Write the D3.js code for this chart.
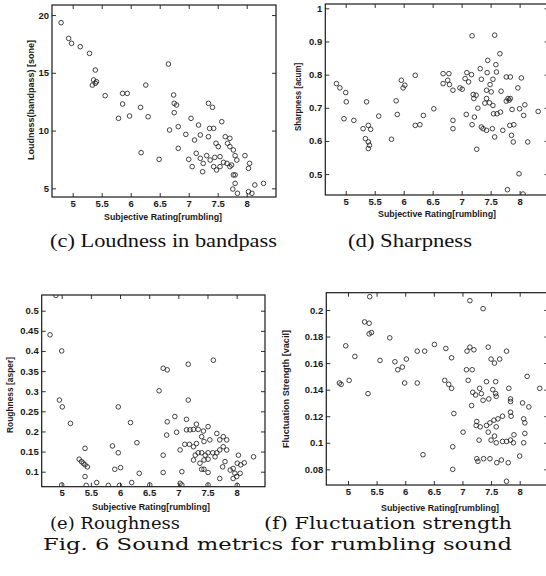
<!DOCTYPE html>
<html>
<head>
<meta charset="utf-8">
<script src="https://cdn.jsdelivr.net/npm/d3@7"></script>
<style>
  body { margin: 0; background: #fff; }
  svg { display: block; }
</style>
</head>
<body>
<div id="chart"></div>
<script>
// Sound metrics vs subjective rating (rumbling) - four scatter panels

const width = 546;
const height = 576;

// tick values
const ratingTicks = [5, 5.5, 6, 6.5, 7, 7.5, 8];
const loudnessTicks = [5, 10, 15, 20];
const sharpnessTicks = [0.5, 0.6, 0.7, 0.8, 0.9, 1];
const roughnessTicks = [0.1, 0.15, 0.2, 0.25, 0.3, 0.35, 0.4, 0.45, 0.5];
const fluctuationTicks = [0.08, 0.1, 0.12, 0.14, 0.16, 0.18, 0.2];

// (c) loudness in bandpass
const ratingC = [4.80, 4.93, 4.98, 5.13, 5.29, 5.39, 5.36, 5.39, 5.34, 5.41, 5.56, 5.86, 5.94, 5.86, 5.79, 5.98,
  6.17, 6.26, 6.30, 6.18, 6.49, 6.65, 6.74, 6.79, 6.75, 6.75, 6.67, 6.82, 6.82, 6.95, 7.04, 7.10, 7.17, 7.20,
  7.00, 7.06, 7.13, 7.20, 7.24, 7.25, 7.31, 7.34, 7.41, 7.36, 7.34, 7.43, 7.47, 7.45, 7.54, 7.57, 7.51, 7.54,
  7.60, 7.63, 7.67, 7.71, 7.77, 7.80, 7.74, 7.83, 7.97, 8.03, 8.05, 7.77, 7.80, 7.76, 7.84, 8.03, 8.14, 8.29,
  8.09, 7.43, 7.66, 7.71, 7.48, 7.37, 7.71, 7.80];
const loudness = [19.34, 17.98, 17.55, 17.26, 16.68, 15.24, 14.38, 14.09, 13.94, 14.23, 13.02, 13.22, 13.22, 12.30,
  11.06, 11.26, 12.01, 13.94, 11.20, 8.09, 7.51, 15.76, 13.08, 12.21, 12.36, 11.55, 10.05, 10.34, 8.46, 9.67,
  11.06, 9.18, 10.48, 9.62, 7.51, 6.88, 8.03, 7.60, 6.44, 7.16, 7.83, 12.36, 12.01, 10.19, 9.47, 10.19, 8.90,
  7.68, 7.74, 10.77, 8.61, 6.88, 7.25, 9.47, 8.90, 8.61, 8.32, 7.83, 7.02, 7.45, 7.83, 6.73, 7.16, 6.16, 5.43,
  4.94, 4.57, 4.71, 5.29, 5.43, 4.57, 6.88, 7.16, 6.88, 6.59, 7.45, 9.33, 6.16];

// (d) sharpness
const ratingD = [4.84, 4.90, 5.00, 5.01, 4.97, 5.14, 5.36, 5.30, 5.39, 5.43, 5.34, 5.39, 5.41, 5.39, 5.57, 5.79,
  5.87, 5.89, 5.96, 5.99, 6.02, 6.20, 6.20, 6.28, 6.34, 6.52, 6.68, 6.68, 6.76, 6.78, 6.79, 6.85, 6.85, 6.85,
  6.97, 7.01, 7.06, 7.09, 7.12, 7.08, 7.17, 7.18, 7.18, 7.22, 7.21, 7.25, 7.28, 7.26, 7.32, 7.34, 7.34, 7.37,
  7.40, 7.43, 7.43, 7.45, 7.44, 7.48, 7.49, 7.51, 7.54, 7.54, 7.57, 7.59, 7.55, 7.57, 7.60, 7.61, 7.66, 7.68,
  7.67, 7.71, 7.77, 7.80, 7.82, 7.84, 7.84, 7.87, 7.90, 7.86, 7.83, 7.89, 7.97, 8.00, 8.03, 8.09, 8.07, 8.14,
  7.99, 8.06, 7.79, 8.32, 7.77, 7.43, 7.53, 7.20];
const sharpness = [0.773, 0.760, 0.746, 0.718, 0.667, 0.662, 0.718, 0.637, 0.647, 0.635, 0.607, 0.597, 0.587, 0.577,
  0.675, 0.605, 0.721, 0.680, 0.783, 0.760, 0.768, 0.798, 0.647, 0.649, 0.677, 0.697, 0.803, 0.773, 0.783,
  0.803, 0.770, 0.753, 0.662, 0.637, 0.760, 0.756, 0.788, 0.806, 0.778, 0.680, 0.800, 0.917, 0.649, 0.672,
  0.728, 0.738, 0.699, 0.575, 0.818, 0.786, 0.642, 0.637, 0.714, 0.753, 0.728, 0.843, 0.806, 0.715, 0.770,
  0.748, 0.707, 0.786, 0.919, 0.830, 0.682, 0.612, 0.808, 0.682, 0.863, 0.750, 0.687, 0.632, 0.793, 0.728,
  0.723, 0.728, 0.793, 0.695, 0.649, 0.617, 0.647, 0.597, 0.760, 0.697, 0.790, 0.709, 0.677, 0.597, 0.501,
  0.440, 0.453, 0.689, 0.720, 0.632, 0.637, 0.740];

// (e) roughness
const ratingE = [4.90, 4.80, 5.00, 4.96, 5.01, 5.15, 5.40, 5.30, 5.34, 5.37, 5.40, 5.44, 5.40, 5.42, 5.60, 5.00,
  5.80, 5.87, 5.97, 5.97, 5.91, 6.01, 5.99, 6.18, 6.29, 6.20, 6.33, 6.51, 6.67, 6.74, 6.81, 6.81, 6.80, 6.74,
  6.74, 6.94, 6.97, 7.06, 7.03, 7.17, 7.17, 7.14, 7.14, 7.20, 7.26, 7.31, 7.34, 7.43, 7.03, 7.11, 7.19, 7.26,
  7.31, 7.40, 7.44, 7.51, 7.54, 7.26, 7.29, 7.34, 7.40, 7.46, 7.51, 7.59, 7.66, 7.71, 7.63, 7.37, 7.44, 7.51,
  7.40, 7.44, 7.51, 7.60, 7.66, 7.71, 7.77, 7.83, 7.77, 7.80, 7.76, 7.71, 7.89, 7.94, 7.97, 8.03, 8.01, 8.07,
  8.13, 8.06, 8.00, 7.94, 8.29, 7.51, 8.01, 7.83, 7.06];
const roughness = [0.538, 0.440, 0.400, 0.278, 0.261, 0.220, 0.158, 0.131, 0.125, 0.121, 0.117, 0.112, 0.088, 0.066,
  0.073, 0.067, 0.066, 0.164, 0.261, 0.147, 0.106, 0.110, 0.066, 0.222, 0.172, 0.073, 0.096, 0.067, 0.301,
  0.357, 0.353, 0.224, 0.191, 0.141, 0.098, 0.237, 0.198, 0.100, 0.071, 0.367, 0.278, 0.230, 0.204, 0.204,
  0.205, 0.218, 0.205, 0.201, 0.154, 0.168, 0.168, 0.162, 0.170, 0.187, 0.175, 0.212, 0.179, 0.129, 0.141,
  0.147, 0.147, 0.141, 0.147, 0.147, 0.147, 0.154, 0.137, 0.121, 0.129, 0.131, 0.106, 0.106, 0.098, 0.377,
  0.195, 0.179, 0.187, 0.179, 0.162, 0.125, 0.112, 0.083, 0.104, 0.108, 0.096, 0.141, 0.121, 0.117, 0.122,
  0.096, 0.088, 0.083, 0.137, 0.067, 0.066, 0.154, 0.067];

// (f) fluctuation strength
const ratingF = [5.38, 5.29, 5.37, 5.41, 5.37, 4.96, 5.12, 4.85, 4.88, 5.02, 5.35, 5.56, 5.73, 5.82, 5.87, 5.95,
  6.02, 5.99, 6.21, 6.21, 6.34, 6.51, 6.71, 6.81, 6.69, 6.76, 6.81, 6.31, 6.85, 6.83, 6.83, 7.01, 7.07, 7.17,
  7.08, 7.13, 7.20, 7.13, 7.36, 7.10, 7.18, 7.16, 7.23, 7.30, 7.33, 7.36, 7.42, 7.46, 7.53, 7.58, 7.58, 7.59,
  7.45, 7.50, 7.56, 7.65, 7.77, 7.81, 7.84, 7.84, 7.84, 7.85, 8.05, 8.16, 8.13, 8.35, 7.24, 7.25, 7.31, 7.42,
  7.48, 7.55, 7.62, 7.70, 7.59, 7.45, 7.56, 7.59, 7.70, 7.84, 7.90, 7.89, 8.07, 8.09, 8.09, 8.07, 8.00, 7.29,
  7.25, 7.27, 7.37, 7.48, 7.60, 7.68, 7.80, 7.77, 7.50, 7.77];
const fluctuation = [0.210, 0.191, 0.190, 0.183, 0.182, 0.173, 0.165, 0.145, 0.144, 0.147, 0.137, 0.162, 0.179, 0.161,
  0.155, 0.157, 0.163, 0.145, 0.145, 0.169, 0.169, 0.174, 0.171, 0.164, 0.147, 0.144, 0.141, 0.091, 0.122,
  0.097, 0.080, 0.108, 0.155, 0.155, 0.169, 0.172, 0.170, 0.207, 0.201, 0.147, 0.138, 0.128, 0.136, 0.141,
  0.137, 0.132, 0.146, 0.133, 0.140, 0.146, 0.137, 0.135, 0.172, 0.163, 0.160, 0.163, 0.169, 0.141, 0.133,
  0.131, 0.123, 0.120, 0.130, 0.127, 0.150, 0.141, 0.113, 0.116, 0.112, 0.113, 0.115, 0.117, 0.118, 0.120,
  0.112, 0.108, 0.105, 0.100, 0.101, 0.102, 0.106, 0.100, 0.118, 0.115, 0.107, 0.100, 0.090, 0.102, 0.088,
  0.086, 0.088, 0.088, 0.085, 0.087, 0.085, 0.071, 0.102, 0.101];

const svg = d3.select('#chart')
  .append('svg')
  .attr('width', width)
  .attr('height', height);

const ink = '#1a1a1a';

// one panel = frame + inward ticks + circles
function drawPanel(p) {
  const x = d3.scaleLinear().domain(p.xDomain).range([p.left, p.right]);
  const y = d3.scaleLinear().domain(p.yDomain).range([p.bottom, p.top]);

  const g = svg.append('g');

  // clip so marks at the edge are cut like the original
  const clipId = 'clip' + p.id;
  svg.append('clipPath').attr('id', clipId)
    .append('rect')
    .attr('x', p.left).attr('y', p.top)
    .attr('width', p.right - p.left).attr('height', p.bottom - p.top);

  const fmt = d => String(d);

  // bottom / top axes, ticks pointing inside
  g.append('g')
    .attr('transform', `translate(0,${p.bottom})`)
    .call(d3.axisBottom(x).tickValues(ratingTicks).tickSize(-4).tickPadding(3).tickFormat(fmt))
    .call(a => a.select('.domain').remove());
  g.append('g')
    .attr('transform', `translate(0,${p.top})`)
    .call(d3.axisTop(x).tickValues(ratingTicks).tickSize(-4).tickFormat(''))
    .call(a => a.select('.domain').remove());

  // left / right axes
  g.append('g')
    .attr('transform', `translate(${p.left},0)`)
    .call(d3.axisLeft(y).tickValues(p.yTicks).tickSize(-4).tickPadding(3).tickFormat(fmt))
    .call(a => a.select('.domain').remove());
  g.append('g')
    .attr('transform', `translate(${p.right},0)`)
    .call(d3.axisRight(y).tickValues(p.yTicks).tickSize(-4).tickFormat(''))
    .call(a => a.select('.domain').remove());

  g.selectAll('.tick line').attr('stroke', ink).attr('stroke-width', 0.9);
  g.selectAll('.tick text')
    .attr('fill', ink)
    .style('font-family', '"Liberation Sans", Arial, sans-serif')
    .style('font-size', '9.5px')
    .style('font-weight', 'bold');

  // frame
  g.append('rect')
    .attr('x', p.left).attr('y', p.top)
    .attr('width', p.right - p.left).attr('height', p.bottom - p.top)
    .attr('fill', 'none')
    .attr('stroke', ink)
    .attr('stroke-width', 1.2);

  // points
  g.append('g')
    .attr('clip-path', `url(#${clipId})`)
    .selectAll('circle')
    .data(p.xs.map((v, i) => [v, p.ys[i]]))
    .enter().append('circle')
    .attr('cx', d => x(d[0]))
    .attr('cy', d => y(d[1]))
    .attr('r', 2.3)
    .attr('fill', 'none')
    .attr('stroke', '#222')
    .attr('stroke-width', 0.85);

  // axis labels
  g.append('text')
    .attr('x', p.xLabelX).attr('y', p.xLabelY)
    .attr('text-anchor', 'middle')
    .attr('textLength', 118)
    .attr('lengthAdjust', 'spacingAndGlyphs')
    .style('font-family', '"Liberation Sans", Arial, sans-serif')
    .style('font-size', '8.5px')
    .style('font-weight', 'bold')
    .attr('fill', ink)
    .text('Subjective Rating[rumbling]');

  g.append('text')
    .attr('transform', `translate(${p.yLabelX},${p.yLabelY}) rotate(-90)`)
    .attr('text-anchor', 'middle')
    .attr('textLength', p.yLabelLen)
    .attr('lengthAdjust', 'spacingAndGlyphs')
    .style('font-family', '"Liberation Sans", Arial, sans-serif')
    .style('font-size', '8.5px')
    .style('font-weight', 'bold')
    .attr('fill', ink)
    .text(p.yLabel);
}

drawPanel({
  id: 'c', left: 52, right: 276, top: 5, bottom: 197,
  xDomain: [4.643, 8.505], yDomain: [4.25, 20.87], yTicks: loudnessTicks,
  xs: ratingC, ys: loudness,
  xLabelX: 163, xLabelY: 220, yLabelX: 34, yLabelY: 100, yLabelLen: 120,
  yLabel: 'Loudness(bandpass) [sone]'
});

drawPanel({
  id: 'd', left: 325.3, right: 548.6, top: 4, bottom: 195,
  xDomain: [4.648, 8.5], yDomain: [0.437, 1.013], yTicks: sharpnessTicks,
  xs: ratingD, ys: sharpness,
  xLabelX: 437, xLabelY: 217, yLabelX: 301, yLabelY: 97, yLabelLen: 68,
  yLabel: 'Sharpness [acum]'
});

drawPanel({
  id: 'e', left: 41.7, right: 265, top: 295, bottom: 486.7,
  xDomain: [4.657, 8.486], yDomain: [0.0627, 0.539], yTicks: roughnessTicks,
  xs: ratingE, ys: roughness,
  xLabelX: 151, xLabelY: 510, yLabelX: 13, yLabelY: 395, yLabelLen: 76,
  yLabel: 'Roughness [asper]'
});

drawPanel({
  id: 'f', left: 326.3, right: 548.3, top: 292.7, bottom: 485,
  xDomain: [4.621, 8.5], yDomain: [0.0682, 0.213], yTicks: fluctuationTicks,
  xs: ratingF, ys: fluctuation,
  xLabelX: 440, xLabelY: 511, yLabelX: 289, yLabelY: 389, yLabelLen: 118,
  yLabel: 'Fluctuation Strength [vacil]'
});

// captions
const captions = [
  { text: '(c) Loudness in bandpass', x: 50, y: 247, len: 227, font: '"Liberation Serif", "Times New Roman", serif' },
  { text: '(d) Sharpness', x: 348, y: 247, len: 124, font: '"Liberation Serif", "Times New Roman", serif' },
  { text: '(e) Roughness', x: 50, y: 529, len: 130, font: '"DejaVu Serif", serif' },
  { text: '(f) Fluctuation strength', x: 264, y: 529, len: 248, font: '"DejaVu Serif", serif' },
  { text: 'Fig. 6 Sound metrics for rumbling sound', x: 43, y: 550, len: 469, font: '"DejaVu Serif", serif' }
];

svg.selectAll('.caption')
  .data(captions)
  .enter().append('text')
  .attr('class', 'caption')
  .attr('x', d => d.x)
  .attr('y', d => d.y)
  .attr('textLength', d => d.len)
  .attr('lengthAdjust', 'spacingAndGlyphs')
  .style('font-family', d => d.font)
  .style('font-size', d => d.font.startsWith('"DejaVu') ? '16px' : '18px')
  .attr('fill', '#111')
  .text(d => d.text);
</script>
</body>
</html>
